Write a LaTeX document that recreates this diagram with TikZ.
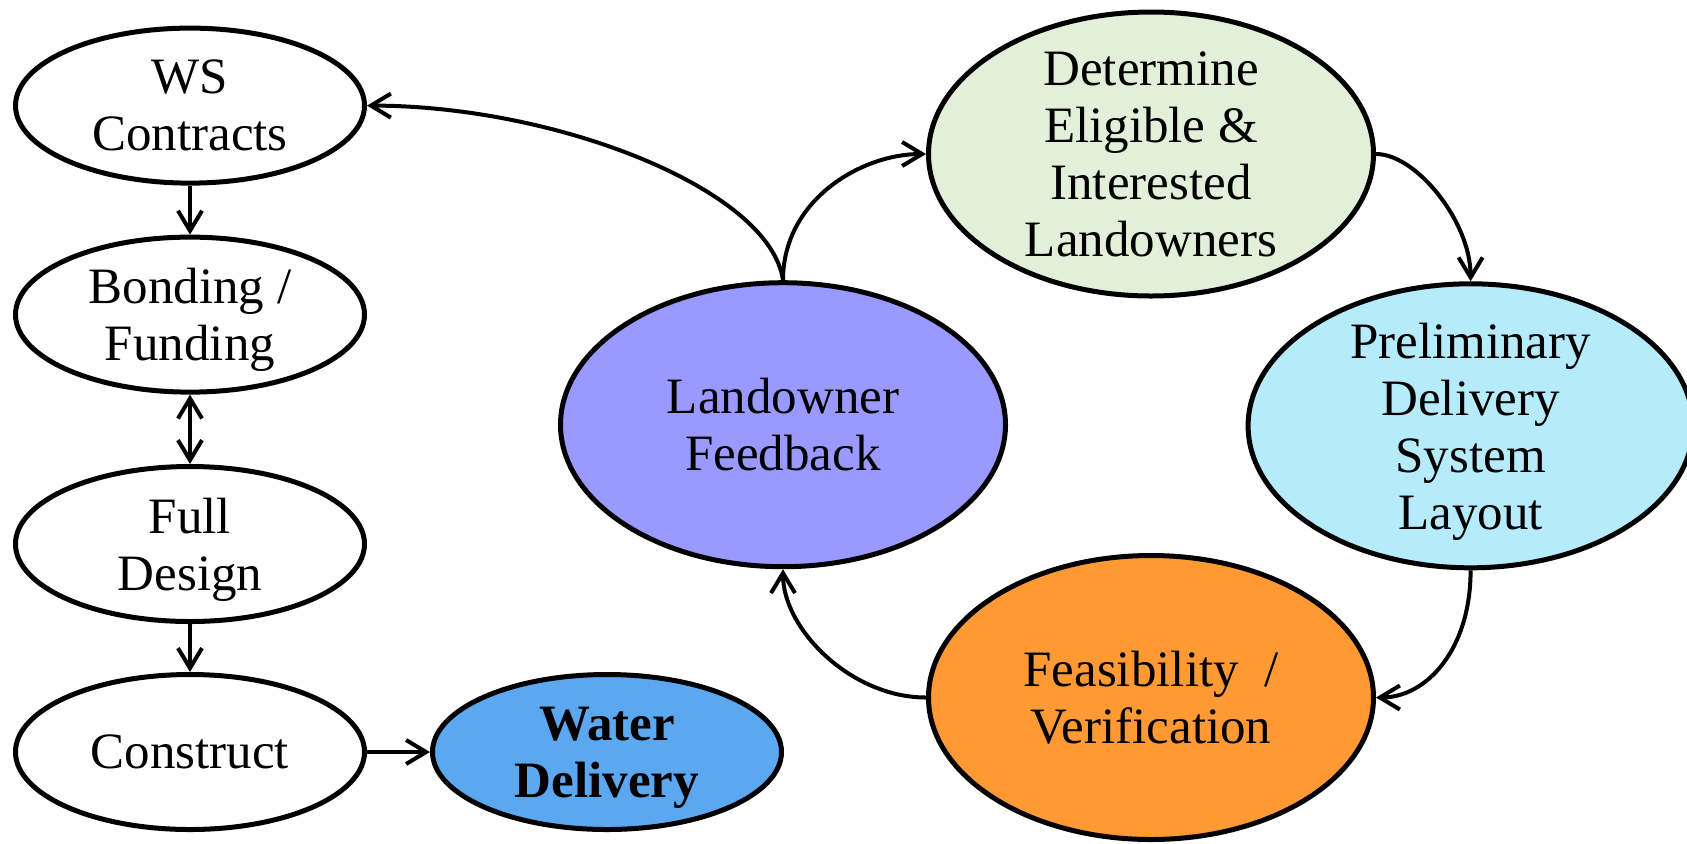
\documentclass[tikz,border=0pt]{standalone}
\usepackage{fontspec}
\setmainfont{Liberation Serif}
\usetikzlibrary{shapes.geometric,arrows.meta}
\definecolor{cDet}{HTML}{E2F0D9}
\definecolor{cPre}{HTML}{B5EBFA}
\definecolor{cFea}{HTML}{FF9933}
\definecolor{cLf}{HTML}{9999FF}
\definecolor{cWat}{HTML}{5BA8F0}
\begin{document}
\begin{tikzpicture}[x=0.5pt,y=-0.5pt,
  ell/.style={ellipse, draw=black, line width=2.5pt, inner sep=0pt},
  small/.style={ell, minimum width=174.5pt, minimum height=77.5pt},
  big/.style={ell, minimum width=222.5pt, minimum height=142pt},
  txt/.style={align=center, inner sep=0pt, text depth=0pt, font=\fontsize{25.5}{28.5}\selectfont},
  arr/.style={-{Straight Barb[length=10pt,width=12pt]}, line width=2pt},
  darr/.style={{Straight Barb[length=10pt,width=12pt]}-{Straight Barb[length=10pt,width=12pt]}, line width=2pt}]
\useasboundingbox (0,0) rectangle (1687,843);
% left column
\node[small] (ws) at (190,105.6) {};
\node[txt] (wsT) at (ws) {WS\\Contracts};
\node[small] (bf) at (190,314.6) {};
\node[txt] (bfT) at (bf) {Bonding /\\Funding};
\node[small] (fd) at (190,544) {};
\node[txt] (fdT) at (fd) {Full\\Design};
\node[small] (co) at (190,752) {};
\node[txt] (coT) at (co) {Construct};
\node[small, fill=cWat] (wd) at (607,752) {};
\node[txt, font=\fontsize{25.5}{28.5}\selectfont\bfseries] (wdT) at (wd) {Water\\Delivery};
% cycle
\node[big, fill=cLf] (lf) at (783,424.7) {};
\node[txt] (lfT) at (lf) {Landowner\\Feedback};
\node[big, fill=cDet] (det) at (1151,154) {};
\node[txt] (detT) at (det) {Determine\\Eligible \&\\Interested\\Landowners};
\node[big, fill=cPre] (pre) at (1470.6,425.8) {};
\node[txt] (preT) at (pre) {Preliminary\\Delivery\\System\\Layout};
\node[big, fill=cFea] (fea) at (1151,697.5) {};
\node[txt] (feaT) at (fea) {Feasibility~~/\\Verification};
% connectors
\draw[arr] (ws) -- (bf);
\draw[darr] (bf) -- (fd);
\draw[arr] (fd) -- (co);
\draw[arr] (co) -- (wd);
\draw[arr] (lf.north) .. controls +(-13,-91) and +(189,0) .. (ws.east);
\draw[arr] (lf.north) .. controls +(0,-80) and +(-65,0) .. (det.west);
\draw[arr] (det.east) .. controls +(40,0) and +(0,-60) .. (pre.north);
\draw[arr] (pre.south) .. controls +(0,80) and +(50,0) .. (fea.east);
\draw[arr] (fea.west) .. controls +(-75,0) and +(0,60) .. (lf.south);
\end{tikzpicture}
\end{document}
